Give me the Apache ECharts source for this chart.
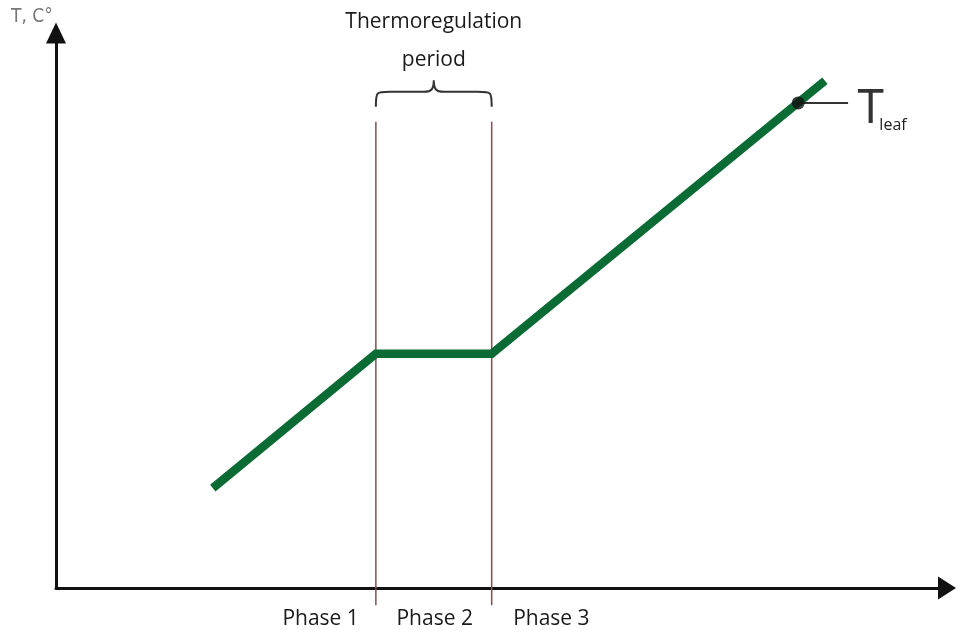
<!DOCTYPE html>
<html><head><meta charset="utf-8">
<script src="https://cdn.jsdelivr.net/npm/echarts@6/dist/echarts.min.js"></script>
<style>html,body{margin:0;padding:0;background:#fff}#c{width:958px;height:630px}</style>
</head><body><div id="c"></div>
<script>
// Data (x: time, arbitrary units 0-100; y: temperature, arbitrary units 0-100)
const timeValues = [17.6, 35.9, 48.9, 86.3];
const tempValues = [18.0, 42.2, 42.2, 91.4];
const phaseBounds = [35.9, 48.9];
const phaseLineTop = 84.0;
const phaseLineBottom = -3.1;
const phaseLabels = ['Phase 1', 'Phase 2', 'Phase 3'];
const phaseLabelX = [29.7, 42.5, 55.6];
const phaseLabelY = -5.6;
const braceY = [86.7, 89.4, 91.5];
const braceTitle = ['Thermoregulation', 'period'];
const braceTitleY = [102.0, 95.1];
const leafPoint = [83.3, 87.4];
const leafLabelX = 88.9;
const yAxisName = 'T, C°';

const chart = echarts.init(document.getElementById('c'), null, {renderer: 'canvas'});
const font = '"Open Sans", sans-serif';

const lineData = timeValues.map((t, i) => [t, tempValues[i]]);

const option = {
  animation: false,
  title: {text: yAxisName, left: 6, top: 3,
    textStyle: {fontSize: 19, color: '#777', fontWeight: 'normal', fontFamily: '"DejaVu Sans Condensed", sans-serif'}},
  grid: {left: 56, right: 11, top: 33, bottom: 42},
  xAxis: {type: 'value', min: 0, max: 100,
    axisLine: {show: true, symbol: ['none', 'triangle'], symbolSize: [23, 18], lineStyle: {color: '#111', width: 3}},
    axisTick: {show: false}, axisLabel: {show: false}, splitLine: {show: false}},
  yAxis: {type: 'value', min: 0, max: 100,
    axisLine: {show: true, symbol: ['none', 'triangle'], symbolSize: [20, 21], lineStyle: {color: '#111', width: 3}},
    axisTick: {show: false}, axisLabel: {show: false}, splitLine: {show: false}},
  series: [
    // phase boundary lines
    ...phaseBounds.map(x => ({
      type: 'line', data: [[x, phaseLineTop], [x, phaseLineBottom]], clip: false,
      symbol: 'none', lineStyle: {color: '#7d5252', width: 1.5}, z: 1, silent: true
    })),
    {
      type: 'line', data: lineData, symbol: 'none', clip: false,
      lineStyle: {color: '#0b6b34', width: 8.5, cap: 'butt', join: 'miter'}, z: 3
    },
    {
      type: 'line', data: [leafPoint, [leafLabelX, leafPoint[1]]], clip: false,
      symbol: 'none', lineStyle: {color: '#333', width: 2}, z: 4
    },
    {
      type: 'scatter', data: [leafPoint], symbolSize: 13, itemStyle: {color: '#111'}, z: 5, clip: false
    },
    {
      type: 'custom', clip: false, z: 6, silent: true,
      data: [0],
      renderItem: function (params, api) {
        const children = [];
        // brace
        const p0 = api.coord([phaseBounds[0], braceY[0]]);
        const p1 = api.coord([phaseBounds[1], braceY[0]]);
        const ym = api.coord([0, braceY[1]])[1];
        const yt = api.coord([0, braceY[2]])[1];
        const x0 = p0[0], x1 = p1[0], yb = p0[1], xc = (x0 + x1) / 2;
        const d = `M${x0},${yb} C${x0},${ym} ${x0},${ym} ${x0 + 14},${ym} L${xc - 10},${ym} C${xc - 2},${ym} ${xc},${ym - 3} ${xc},${yt} C${xc},${ym - 3} ${xc + 2},${ym} ${xc + 10},${ym} L${x1 - 14},${ym} C${x1},${ym} ${x1},${ym} ${x1},${yb}`;
        children.push({type: 'path', shape: {pathData: d}, style: {stroke: '#333', lineWidth: 2, fill: null}});
        braceTitle.forEach((t, i) => {
          const p = api.coord([(phaseBounds[0] + phaseBounds[1]) / 2, braceTitleY[i]]);
          children.push({type: 'text', x: p[0], y: p[1],
            style: {text: t, fontSize: 21, fontFamily: font, fill: '#1a1a1a', align: 'center', verticalAlign: 'middle'}});
        });
        phaseLabels.forEach((t, i) => {
          const p = api.coord([phaseLabelX[i], phaseLabelY]);
          children.push({type: 'text', x: p[0], y: p[1],
            style: {text: t, fontSize: 21, fontFamily: font, fill: '#1a1a1a', align: 'center', verticalAlign: 'middle'}});
        });
        const lp = api.coord([leafLabelX, leafPoint[1]]);
        children.push({type: 'text', x: lp[0] + 10, y: lp[1] + 8,
          style: {
            text: '{t|T}{s|leaf}', fill: '#222', align: 'left', verticalAlign: 'middle',
            rich: {
              t: {fontSize: 46, fontFamily: '"DejaVu Sans Condensed", sans-serif', fontWeight: 200, fill: '#333', verticalAlign: 'bottom'},
              s: {fontSize: 16, fontFamily: font, fill: '#222', verticalAlign: 'bottom', padding: [0, 0, 0, -4]}
            }
          }});
        return {type: 'group', children: children};
      }
    }
  ]
};
chart.setOption(option);
</script></body></html>
